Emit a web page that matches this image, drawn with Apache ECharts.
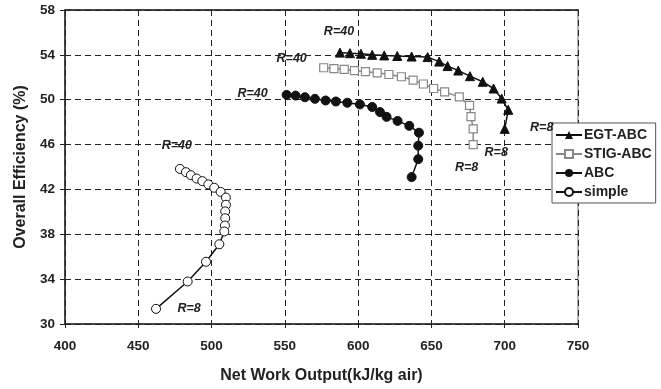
<!DOCTYPE html>
<html>
<head>
<meta charset="utf-8">
<script src="https://cdn.jsdelivr.net/npm/echarts@6/dist/echarts.min.js"></script>
<style>
  html, body { margin: 0; padding: 0; background: #fff; }
  #chart { width: 661px; height: 389px; }
</style>
</head>
<body>
<div id="chart"></div>
<script>
// Pressure ratio sweep R = 40 ... 8 for each cycle: [net work kJ/kg air, overall efficiency %]
const egtAbc = [
  [587.6, 54.2], [594.4, 54.15], [601.9, 54.1], [609.6, 54.0], [617.8, 53.95],
  [626.7, 53.9], [636.5, 53.85], [647.4, 53.8], [655.3, 53.4], [661.0, 53.0],
  [668.3, 52.6], [676.3, 52.1], [685.0, 51.6], [692.4, 51.0], [697.9, 50.1],
  [702.4, 49.1], [700.0, 47.4]
];
const stigAbc = [
  [576.5, 52.85], [583.5, 52.78], [590.5, 52.7], [597.5, 52.6], [605.0, 52.5],
  [613.0, 52.4], [621.0, 52.25], [629.5, 52.05], [637.5, 51.75], [644.5, 51.4],
  [651.5, 51.0], [659.0, 50.7], [669.0, 50.25], [676.0, 49.5], [677.0, 48.5],
  [678.5, 47.4], [678.5, 46.0]
];
const abc = [
  [551.2, 50.43], [557.3, 50.37], [563.7, 50.22], [570.5, 50.08], [577.8, 49.93],
  [584.8, 49.84], [592.6, 49.73], [601.2, 49.58], [609.6, 49.35], [614.9, 48.9],
  [619.4, 48.47], [626.9, 48.11], [634.9, 47.67], [641.5, 47.06], [641.0, 45.9],
  [641.0, 44.7], [636.5, 43.1]
];
const simple = [
  [478.4, 43.83], [482.5, 43.54], [485.9, 43.27], [489.8, 42.97], [493.7, 42.74],
  [497.8, 42.45], [501.8, 42.15], [506.2, 41.78], [509.8, 41.27], [509.8, 40.63],
  [509.3, 40.04], [509.3, 39.43], [509.1, 38.78], [508.7, 38.25], [505.3, 37.11],
  [496.2, 35.55], [483.7, 33.79], [462.1, 31.35]
];
const seriesNames = ['EGT-ABC', 'STIG-ABC', 'ABC', 'simple'];
const firstLabel = 'R=40';
const lastLabel = 'R=8';

const FONT = '"Liberation Sans", Arial, sans-serif';

// Put the pressure-ratio tags on the end points of a curve
function tagEnds(points, startOffset, endOffset) {
  return points.map((p, i) => {
    const item = { value: p };
    let text = null, off = null;
    if (i === 0 && startOffset) { text = firstLabel; off = startOffset; }
    if (i === points.length - 1 && endOffset) { text = lastLabel; off = endOffset; }
    if (text) {
      item.label = {
        show: true, formatter: text, position: 'inside', offset: off,
        fontFamily: FONT, fontWeight: 'bold', fontStyle: 'italic',
        fontSize: 12.5, color: '#222'
      };
    }
    return item;
  });
}

const chart = echarts.init(document.getElementById('chart'), null, { renderer: 'canvas' });

const axisLabelStyle = { fontFamily: FONT, fontWeight: 'bold', fontSize: 13.5, color: '#222' };
const titleStyle = { fontFamily: FONT, fontWeight: 'bold', fontSize: 16, color: '#222' };
const dashed = { show: true, lineStyle: { color: '#222', type: [6, 4], width: 1 } };

chart.setOption({
  animation: false,
  backgroundColor: '#fff',
  grid: { left: 65, right: 83, top: 10, bottom: 61, show: true, borderColor: '#999', borderWidth: 1.5 },
  legend: {
    left: 552, top: 123, width: 105, height: 81,
    orient: 'vertical', itemGap: 5, itemWidth: 26, itemHeight: 10,
    padding: [5, 4, 4, 3],
    backgroundColor: '#fff', borderColor: '#555', borderWidth: 1,
    textStyle: { fontFamily: FONT, fontWeight: 'bold', fontSize: 14, color: '#222', padding: [0, 0, 0, -3] },
    data: seriesNames
  },
  xAxis: [{
    type: 'value', min: 400, max: 750, interval: 50,
    name: 'Net Work Output(kJ/kg air)', nameLocation: 'middle', nameGap: 44,
    nameTextStyle: titleStyle,
    axisLine: { show: true, onZero: false, lineStyle: { color: '#222', width: 1.5 } },
    axisTick: { show: true, inside: false, length: 4, lineStyle: { color: '#222' } },
    axisLabel: Object.assign({ margin: 15 }, axisLabelStyle),
    splitLine: dashed
  }, {
    type: 'value', min: 400, max: 750, position: 'top',
    axisLine: { show: true, onZero: false, lineStyle: { color: '#222', width: 1.5 } },
    axisTick: { show: false }, axisLabel: { show: false }, splitLine: { show: false }
  }],
  yAxis: {
    type: 'value', min: 30, max: 58, interval: 4,
    name: 'Overall Efficiency (%)', nameLocation: 'middle', nameGap: 34, nameRotate: 90,
    nameTextStyle: titleStyle,
    axisLine: { show: true, onZero: false, lineStyle: { color: '#222', width: 1.5 } },
    axisTick: { show: true, inside: false, length: 5, lineStyle: { color: '#222' } },
    axisLabel: Object.assign({ margin: 10 }, axisLabelStyle),
    splitLine: dashed
  },
  series: [
    {
      name: seriesNames[0], type: 'line', data: tagEnds(egtAbc, [-1, -21], [37, -1]),
      symbol: 'triangle', symbolSize: 9,
      lineStyle: { color: '#111', width: 1.5 },
      itemStyle: { color: '#111', borderColor: '#111' }, z: 5
    },
    {
      name: seriesNames[1], type: 'line', data: tagEnds(stigAbc, [-32, -9], [23, 8]),
      symbol: 'rect', symbolSize: 8,
      lineStyle: { color: '#888', width: 1.5 },
      itemStyle: { color: '#fff', borderColor: '#888', borderWidth: 1.2 }, z: 4
    },
    {
      name: seriesNames[2], type: 'line', data: tagEnds(abc, [-34, -1], [55, -10]),
      symbol: 'circle', symbolSize: 9,
      lineStyle: { color: '#111', width: 1.5 },
      itemStyle: { color: '#111', borderColor: '#111' }, z: 3
    },
    {
      name: seriesNames[3], type: 'line', data: tagEnds(simple, [-3, -23], [33, 0]),
      symbol: 'circle', symbolSize: 9,
      lineStyle: { color: '#111', width: 1.5 },
      itemStyle: { color: '#fff', borderColor: '#111', borderWidth: 1 }, z: 2
    }
  ]
});
</script>
</body>
</html>
